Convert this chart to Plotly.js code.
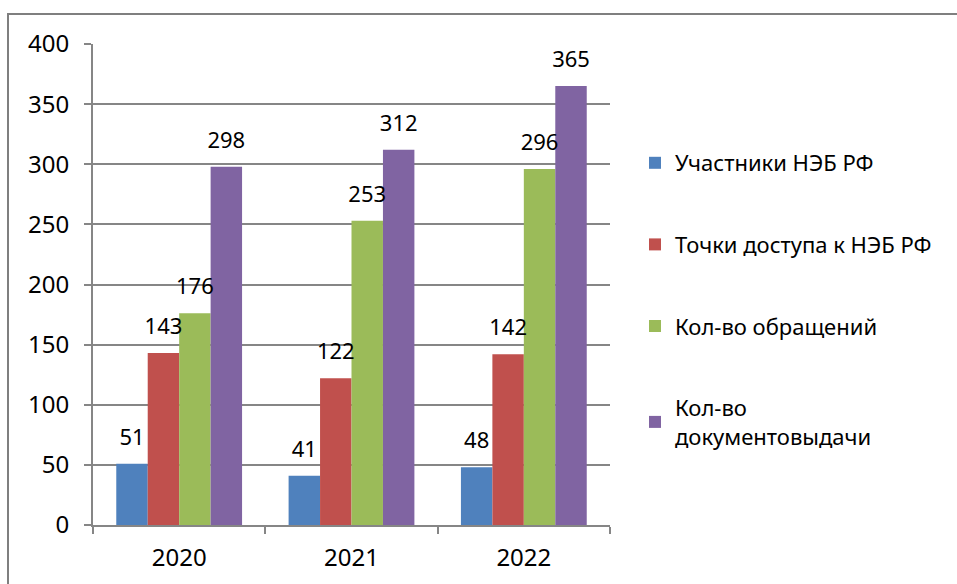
<!DOCTYPE html>
<html>
<head>
<meta charset="utf-8">
<script src="https://cdn.plot.ly/plotly-3.0.1.min.js"></script>
<style>
  html, body { margin:0; padding:0; background:#fff; }
  #chart { width:957px; height:584px; }
</style>
</head>
<body>
<div id="chart"></div>
<script>
// Data
const years = ['2020', '2021', '2022'];
const seriesNames = ['Участники НЭБ РФ', 'Точки доступа к НЭБ РФ', 'Кол-во обращений', 'Кол-во<br>документовыдачи'];
const participants = [51, 41, 48];
const accessPoints = [143, 122, 142];
const requests = [176, 253, 296];
const documentIssues = [298, 312, 365];
const yTicks = [0, 50, 100, 150, 200, 250, 300, 350, 400];

const colors = ['#4F81BD', '#C0504D', '#9BBB59', '#8064A2'];
const FONT = 'Noto Sans, Open Sans, sans-serif';

const allValues = [participants, accessPoints, requests, documentIssues];
const bars = allValues.map(function(vals, i){
  return {
    type: 'bar',
    name: seriesNames[i],
    legendgroup: 'g' + i,
    offsetgroup: 's' + i,
    x: years,
    y: vals,
    marker: { color: colors[i], line: { width: 0 } },
    hoverinfo: 'x+y+name'
  };
});

// value labels: grouped scatter text sitting a bit above each bar (like Excel)
const labels = allValues.map(function(vals, i){
  return {
    type: 'scatter',
    mode: 'markers+text',
    showlegend: false,
    legendgroup: 'g' + i,
    offsetgroup: 's' + i,
    x: years,
    y: vals,
    text: vals.map(String),
    textposition: 'top center',
    marker: { size: 20, opacity: 0 },
    cliponaxis: false,
    textfont: { family: FONT, size: 22, color: '#000' },
    hoverinfo: 'skip'
  };
});

// plot area in pixels: x 93..610, y 44..525
const L = 93, R = 610, T = 44, B = 525;
const px = v => (v - L) / (R - L);
const py = v => (B - v) / (B - T);

const layout = {
  width: 957,
  height: 584,
  margin: { l: L, r: 957 - R, t: T, b: 584 - B, pad: 0 },
  paper_bgcolor: '#fff',
  plot_bgcolor: '#fff',
  font: { family: FONT, size: 22, color: '#000' },
  barmode: 'group',
  bargap: 0.27,
  bargroupgap: 0,
  scattermode: 'group',
  scattergap: 0.27,
  showlegend: true,
  legend: {
    x: px(635), y: py(142), xanchor: 'left', yanchor: 'top',
    font: { family: FONT, size: 22, color: '#000' },
    tracegroupgap: 50,
    itemwidth: 30,
    bgcolor: 'rgba(0,0,0,0)'
  },
  xaxis: {
    type: 'category',
    showline: true, linecolor: '#868686', linewidth: 2,
    ticks: 'outside', tickson: 'boundaries', ticklen: 7, tickcolor: '#868686', tickwidth: 2,
    showgrid: false,
    tickfont: { family: FONT, size: 24, color: '#000' },
    ticklabelstandoff: 10
  },
  yaxis: {
    range: [0, 400],
    tickvals: yTicks,
    showline: true, linecolor: '#868686', linewidth: 2,
    ticks: 'outside', ticklen: 7, tickcolor: '#868686', tickwidth: 2,
    showgrid: true, gridcolor: '#868686', gridwidth: 2,
    zeroline: false,
    tickfont: { family: FONT, size: 24, color: '#000' },
    ticklabelstandoff: 10
  },
  shapes: [{
    type: 'rect', xref: 'paper', yref: 'paper',
    x0: px(8), x1: px(990), y0: py(620), y1: py(14),
    line: { color: '#7f7f7f', width: 2 },
    fillcolor: 'rgba(0,0,0,0)',
    layer: 'below'
  }]
};

Plotly.newPlot('chart', bars.concat(labels), layout, { displayModeBar: false, staticPlot: true });
</script>
</body>
</html>
